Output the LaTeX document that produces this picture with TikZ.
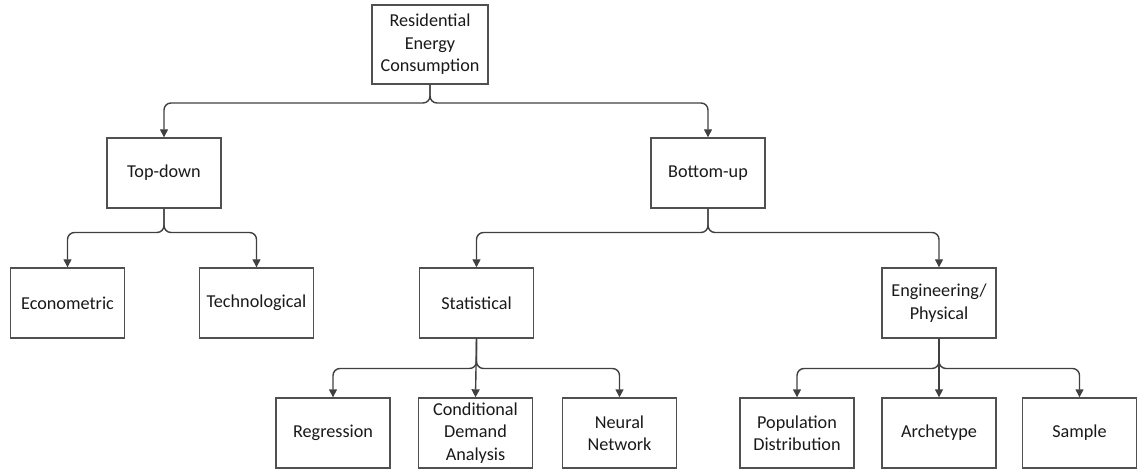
\documentclass[tikz,border=0pt]{standalone}
\usepackage{fontspec}
\setmainfont{Carlito}
\usetikzlibrary{arrows.meta}
\definecolor{edgegray}{HTML}{404040}
\definecolor{boxgray}{HTML}{505050}
\definecolor{txt}{HTML}{1A1A1A}
\begin{document}
\begin{tikzpicture}[x=1pt,y=-1pt,
  box/.style={draw=boxgray, line width=1.4pt, fill=white, inner sep=0pt,
    minimum width=114pt, minimum height=70pt, align=center, text=txt,
    font=\fontsize{18.2}{22.5}\selectfont},
  conn/.style={draw=edgegray, line width=1.4pt, rounded corners=7pt,
    -{Triangle[length=8pt,width=8pt]}}]
\useasboundingbox (0,0) rectangle (1137,470);

% tree levels
\node[box, minimum width=116pt, minimum height=79pt] (root) at (430,44.5) {Residential\\Energy\\Consumption};
\node[box] (td) at (164,173) {Top-down};
\node[box] (bu) at (708,173) {Bottom-up};
\node[box] (eco) at (67.5,303) {Econometric};
\node[box] (tech) at (256.5,303) {Technological};
\node[box] (stat) at (476.5,303) {Statistical};
\node[box] (eng) at (939,303) {Engineering/\\Physical};
\node[box] (reg) at (333,433) {Regression};
\node[box] (cda) at (475.5,433) {Conditional\\Demand\\Analysis};
\node[box] (nn) at (619.5,433) {Neural\\Network};
\node[box] (pop) at (797,433) {Population\\Distribution};
\node[box] (arch) at (939,433) {Archetype};
\node[box] (samp) at (1079.5,433) {Sample};

% branching heights
\coordinate (j0) at (0,103);
\coordinate (j1) at (0,232.5);
\coordinate (j2) at (0,368.5);

\draw[conn] (root.south) -- (root.south |- j0) -| (td.north);
\draw[conn] (root.south) -- (root.south |- j0) -| (bu.north);
\draw[conn] (td.south) -- (td.south |- j1) -| (eco.north);
\draw[conn] (td.south) -- (td.south |- j1) -| (tech.north);
\draw[conn] (bu.south) -- (bu.south |- j1) -| (stat.north);
\draw[conn] (bu.south) -- (bu.south |- j1) -| (eng.north);
\draw[conn] (stat.south) -- (stat.south |- j2) -| (reg.north);
\draw[conn] (stat.south) -- (cda.north);
\draw[conn] (stat.south) -- (stat.south |- j2) -| (nn.north);
\draw[conn] (eng.south) -- (eng.south |- j2) -| (pop.north);
\draw[conn] (eng.south) -- (arch.north);
\draw[conn] (eng.south) -- (eng.south |- j2) -| (samp.north);
\end{tikzpicture}
\end{document}
